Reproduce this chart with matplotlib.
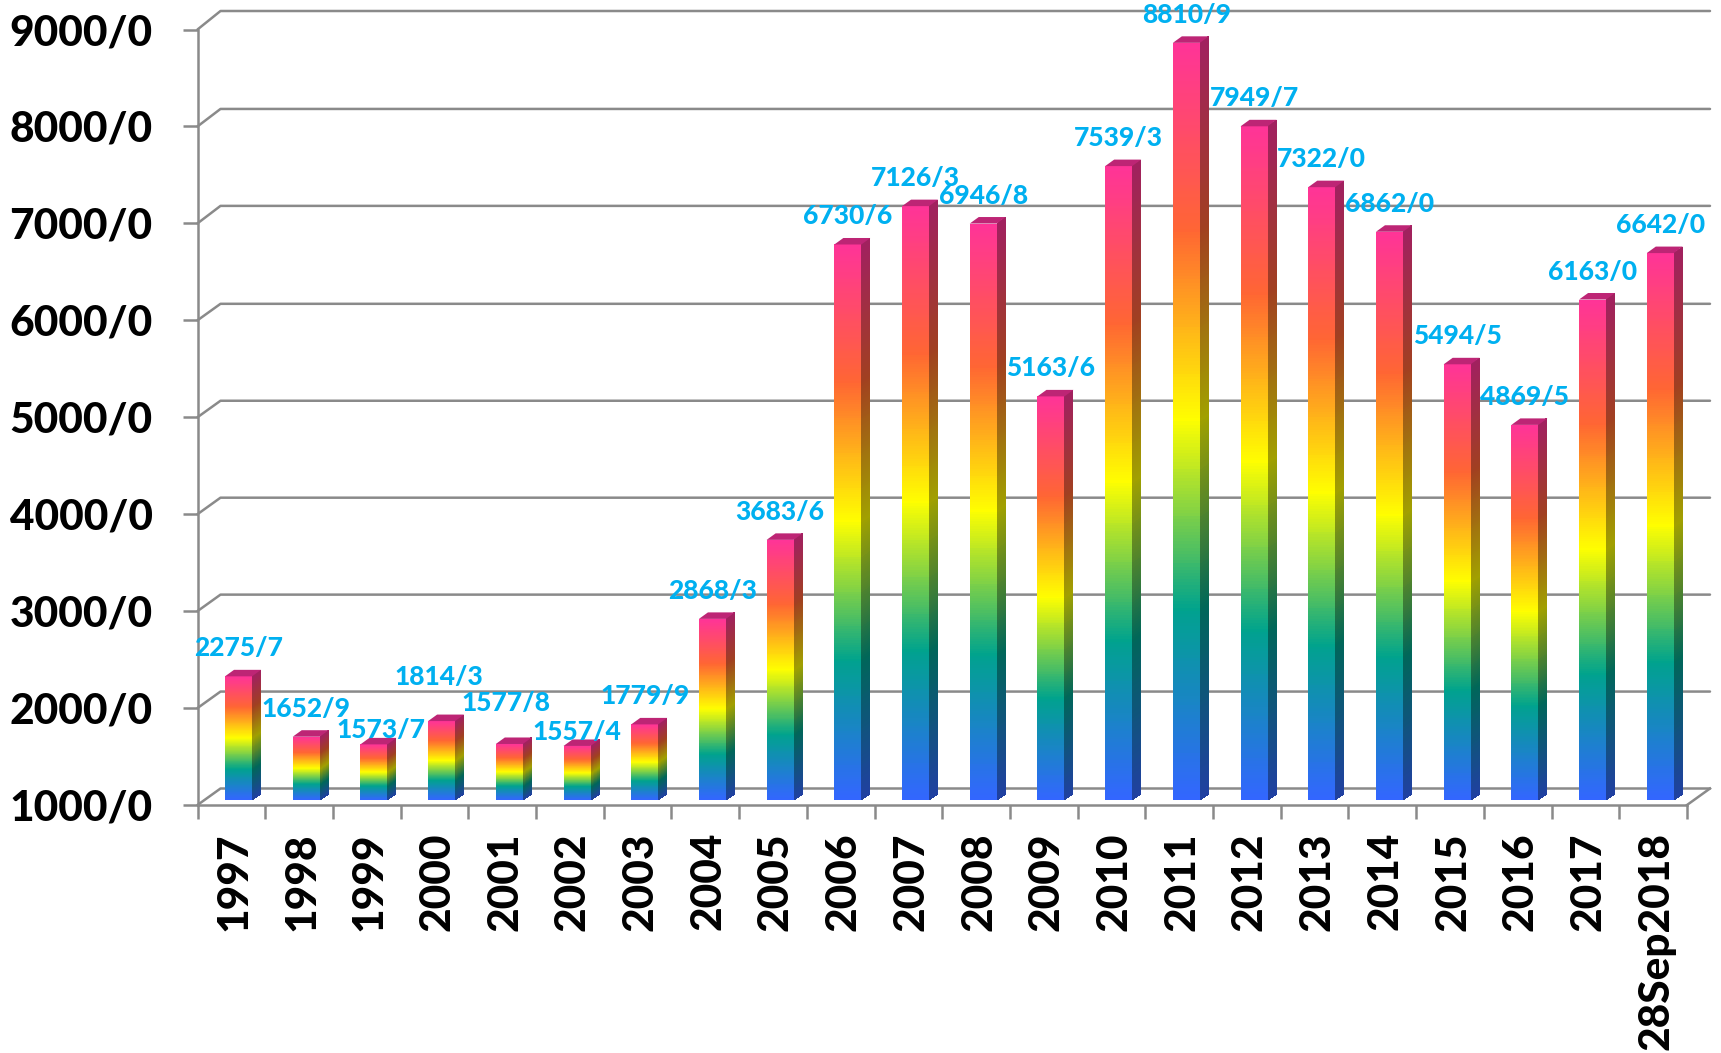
import matplotlib
matplotlib.use('Agg')
import matplotlib.pyplot as plt
import matplotlib.transforms as mtrans
import numpy as np
from matplotlib.colors import LinearSegmentedColormap

years = ['1997', '1998', '1999', '2000', '2001', '2002', '2003', '2004', '2005', '2006', '2007',
         '2008', '2009', '2010', '2011', '2012', '2013', '2014', '2015', '2016', '2017', '28Sep2018']
values = [2275.7, 1652.9, 1573.7, 1814.3, 1577.8, 1557.4, 1779.9, 2868.3, 3683.6, 6730.6, 7126.3,
          6946.8, 5163.6, 7539.3, 8810.9, 7949.7, 7322.0, 6862.0, 5494.5, 4869.5, 6163.0, 6642.0]
y_ticks = [1000, 2000, 3000, 4000, 5000, 6000, 7000, 8000, 9000]

W, H = 1721, 1053
left, right, top, bottom = 197.5, 1687, 29.5, 805
px_x = 22 / (right - left)      # categories per pixel
px_y = 8000 / (bottom - top)    # value units per pixel

GREY = '#8a8a8a'
CYAN = '#00b0f0'
stops = [0, 0.25, 0.5, 0.75, 1]
stop_colors = np.array([[0x33, 0x66, 0xff], [0x00, 0xa3, 0x8d], [0xff, 0xff, 0x00],
                        [0xff, 0x66, 0x33], [0xff, 0x33, 0x99]]) / 255
front_cmap = LinearSegmentedColormap.from_list('front', list(zip(stops, stop_colors)))
side_cmap = LinearSegmentedColormap.from_list('side', list(zip(stops, stop_colors * 0.63)))

plt.rcParams['font.family'] = ['Lato', 'DejaVu Sans']
fig = plt.figure(figsize=(W / 100, H / 100), dpi=100, facecolor='white')
ax = fig.add_axes([left / W, (H - bottom) / H, (right - left) / W, (bottom - top) / H])

# back wall lines and the diagonals joining them to the axis
back_x = 23 * px_x
back_lift = [16.5, 16.5, 16.5, 16.5, 16.5, 16.5, 17.5, 17.5, 18.5]
for t, b in zip(y_ticks, back_lift):
    back_y = b * px_y
    ax.plot([-0.5, -0.5 + back_x, 21.5 + back_x], [t, t + back_y, t + back_y],
            color=GREY, lw=1.8, clip_on=False, zorder=1, solid_capstyle='round')
ax.plot([21.5, 21.5 + back_x], [1000, 1000 + back_lift[0] * px_y], color=GREY, lw=1.8,
        clip_on=False, zorder=1)

# bars: gradient front, darker side, flat top
shift = 7.15 * px_x
half = 13.5 * px_x
depth_x, depth_y = 9 * px_x, 6.5 * px_y
lift = 5 * px_y
shade = np.linspace(0, 1, 241)
C = shade[:-1].reshape(-1, 1)
for i, v in enumerate(values):
    x0, x1 = i + shift - half, i + shift + half
    y0, y1 = 1000 + lift, v + lift
    ys = y0 + shade * (y1 - y0)
    ax.pcolormesh(np.array([[x0, x1]] * len(ys)), np.column_stack([ys, ys]), C,
                  shading='flat', cmap=front_cmap, vmin=0, vmax=1, zorder=3, antialiased=False)
    ax.pcolormesh(np.array([[x1, x1 + depth_x]] * len(ys)), np.column_stack([ys, ys + depth_y]), C,
                  shading='flat', cmap=side_cmap, vmin=0, vmax=1, zorder=3, antialiased=False)
    ax.fill([x0, x1, x1 + depth_x, x0 + depth_x], [y1, y1, y1 + depth_y, y1 + depth_y],
            color='#bd2575', lw=0, zorder=3, clip_on=False)

# value labels, moved by hand in the few crowded spots
label_moves = {2: (7, 14), 3: (-3, 44), 4: (-3, 41), 5: (0, 14)}
for i, v in enumerate(values):
    dx, dy = label_moves.get(i, (0, 28))
    ax.annotate(f'{v:.1f}'.replace('.', '/'), (i + shift, v + lift), xytext=(dx, dy),
                textcoords='offset pixels', ha='center', va='center', color=CYAN,
                fontsize=19, fontweight='black', annotation_clip=False, zorder=4)

ax.set_xlim(-0.5, 21.5)
ax.set_ylim(1000, 9000)
ax.patch.set_visible(False)
for s in ['top', 'right']:
    ax.spines[s].set_visible(False)
for s in ['left', 'bottom']:
    ax.spines[s].set_color(GREY)
    ax.spines[s].set_linewidth(1.8)

ax.set_yticks(y_ticks)
ax.set_yticklabels([f'{t}/0' for t in y_ticks], fontsize=30.5, fontweight='black', color='black')
ax.tick_params(axis='y', length=10.8, width=1.8, color=GREY, pad=21.6)
ax.set_xticks(range(len(years)))
ax.set_xticklabels(years, rotation=90, fontsize=30.5, fontweight='black', color='black')
ax.set_xticks(np.arange(-0.5, 22), minor=True)
ax.tick_params(axis='x', which='major', length=0, pad=19.5)
ax.tick_params(axis='x', which='minor', length=10, width=1.8, color=GREY)

# nudge the rotated year labels right to sit on the bar centres
nudge = mtrans.ScaledTranslation(3 / 100, 0, fig.dpi_scale_trans)
for lab in ax.get_xticklabels():
    lab.set_transform(lab.get_transform() + nudge)

fig.savefig('out.png', dpi=100)
